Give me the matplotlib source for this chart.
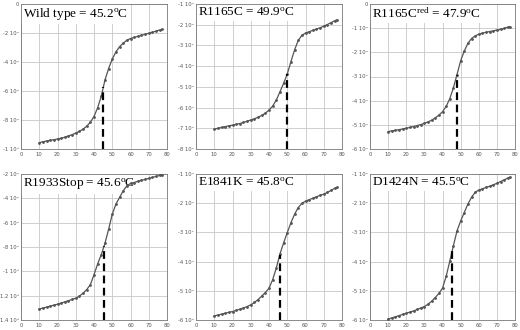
import matplotlib
matplotlib.use("Agg")
import matplotlib.pyplot as plt

plt.rcParams['mathtext.fontset'] = 'custom'
plt.rcParams['mathtext.rm'] = 'Liberation Serif'
plt.rcParams['mathtext.it'] = 'Liberation Serif:italic'

temps = [10, 12, 14, 16, 18, 20, 22, 24, 26, 28, 30, 32, 34, 36, 38, 40, 42, 44, 46,
         48, 50, 52, 54, 56, 58, 60, 62, 64, 66, 68, 70, 72, 74, 76, 77]

wt = [-95.6, -95.0, -94.5, -94.0, -93.6, -93.1, -92.6, -91.9, -91.0, -90.1, -89.0, -87.8,
      -86.3, -84.3, -81.5, -77.6, -71.5, -63.5, -52.5, -44.5, -38.0, -33.0, -29.5, -27.0,
      -25.0, -23.8, -23.0, -22.3, -21.6, -20.9, -20.2, -19.5, -18.7, -17.9, -17.5]
r1165c = [-70.4, -70.0, -69.6, -69.2, -68.8, -68.5, -68.1, -67.7, -67.2, -66.6, -66.0, -65.4,
          -64.7, -63.8, -62.7, -61.2, -59.3, -56.4, -52.4, -48.3, -43.8, -37.9, -32.2, -27.6,
          -25.2, -24.0, -23.4, -22.7, -22.1, -21.5, -20.7, -19.9, -19.0, -18.1, -17.7]
r1165cred = [-52.8, -52.5, -52.3, -52.0, -51.7, -51.4, -51.1, -50.7, -50.3, -49.9, -49.4, -48.8,
             -48.1, -47.1, -46.0, -44.6, -42.4, -39.2, -34.7, -29.2, -23.5, -19.5, -16.3, -14.3,
             -13.2, -12.5, -12.1, -11.7, -11.4, -11.1, -10.8, -10.5, -10.1, -9.6, -9.4]
r1933stop = [-130.9, -130.2, -129.4, -128.6, -127.8, -127.0, -126.1, -125.1, -124.1, -123.1,
             -122.1, -120.3, -118.0, -115.0, -111.0, -102.8, -93.9, -86.2, -77.0, -65.5, -53.1,
             -44.8, -39.3, -33.8, -29.7, -27.8, -27.0, -26.0, -25.2, -24.4, -23.6, -22.8, -22.0,
             -21.2, -20.8]
e1841k = [-58.6, -58.3, -58.0, -57.7, -57.4, -57.1, -56.7, -56.3, -55.9, -55.4, -54.8, -54.0,
          -53.0, -51.8, -50.6, -49.1, -46.2, -42.2, -37.4, -33.6, -30.1, -26.7, -23.8, -21.5,
          -20.1, -19.3, -18.8, -18.3, -17.8, -17.3, -16.9, -16.3, -15.6, -14.9, -14.6]
d1424n = [-59.7, -59.3, -58.9, -58.5, -58.1, -57.7, -57.3, -56.9, -56.4, -55.9, -55.4, -54.6,
          -53.6, -52.3, -50.9, -49.1, -45.1, -39.9, -34.6, -29.5, -26.1, -23.2, -20.3, -18.0,
          -16.3, -15.5, -15.1, -14.6, -14.2, -13.7, -13.2, -12.6, -12.0, -11.4, -11.1]

titles = [r"Wild type = 45.2$^{\rm o}$C",
          r"R1165C = 49.9$^{\rm o}$C",
          r"R1165C$^{\rm red}$ = 47.9$^{\rm o}$C",
          r"R1933Stop = 45.6$^{\rm o}$C",
          r"E1841K = 45.8$^{\rm o}$C",
          r"D1424N = 45.5$^{\rm o}$C"]
tm_values = [45.2, 49.9, 47.9, 45.6, 45.8, 45.5]
series = [wt, r1165c, r1165cred, r1933stop, e1841k, d1424n]  # in units of 1e3

ytick_vals = [
    [0, -20, -40, -60, -80, -100],
    [-10, -20, -30, -40, -50, -60, -70, -80],
    [0, -10, -20, -30, -40, -50, -60],
    [-20, -40, -60, -80, -100, -120, -140],
    [-10, -20, -30, -40, -50, -60],
    [-10, -20, -30, -40, -50, -60],
]
ytick_labels = [
    ["0", "-2 10⁴", "-4 10⁴", "-6 10⁴", "-8 10⁴", "-1 10⁵"],
    ["-1 10⁴", "-2 10⁴", "-3 10⁴", "-4 10⁴", "-5 10⁴", "-6 10⁴", "-7 10⁴", "-8 10⁴"],
    ["0", "-1 10⁴", "-2 10⁴", "-3 10⁴", "-4 10⁴", "-5 10⁴", "-6 10⁴"],
    ["-2 10⁴", "-4 10⁴", "-6 10⁴", "-8 10⁴", "-1 10⁵", "1.2 10⁵", "1.4 10⁵"],
    ["-1 10⁴", "-2 10⁴", "-3 10⁴", "-4 10⁴", "-5 10⁴", "-6 10⁴"],
    ["-1 10⁴", "-2 10⁴", "-3 10⁴", "-4 10⁴", "-5 10⁴", "-6 10⁴"],
]
xticks = [0, 10, 20, 30, 40, 50, 60, 70, 80]

W, H = 520, 330
fig = plt.figure(figsize=(W / 100, H / 100), dpi=100)

# pixel boxes: (left, top, width, height)
boxes = [(21, 4, 146, 145), (196, 4, 146, 145), (370, 4, 145, 145),
         (21, 174, 146, 146), (196, 174, 146, 146), (370, 174, 145, 146)]

for i in range(6):
    l, t, w, h = boxes[i]
    ax = fig.add_axes([l / W, (H - t - h) / H, w / W, h / H])
    yv = ytick_vals[i]
    ax.set_xlim(0, 80)
    ax.set_ylim(min(yv), max(yv))
    ax.set_xticks(xticks)
    ax.set_xticklabels([str(x) for x in xticks])
    ax.set_yticks(yv)
    ax.set_yticklabels(ytick_labels[i])
    ax.tick_params(labelsize=3.8, length=0, colors='#555555')
    ax.tick_params(axis='x', pad=2.5)
    ax.tick_params(axis='y', pad=1.5)
    ax.grid(True, color='#c8c8c8', linewidth=0.6)
    ax.set_axisbelow(True)
    for s in ax.spines.values():
        s.set_color('#777777')
        s.set_linewidth(0.6)
    ys = series[i]
    ax.plot(temps, ys, color='#555555', linewidth=0.9, marker='.', markersize=2.0,
            zorder=3)
    tm = tm_values[i]
    ytop = None
    for j in range(len(temps) - 1):
        if temps[j] <= tm <= temps[j + 1]:
            f = (tm - temps[j]) / (temps[j + 1] - temps[j])
            ytop = ys[j] + f * (ys[j + 1] - ys[j])
    ax.plot([tm, tm], [min(yv), ytop], color='black', linewidth=1.6,
            linestyle=(0, (3.5, 2)), zorder=4)
    ax.text(0.012, 0.985, titles[i], transform=ax.transAxes, ha='left', va='top',
            family='Liberation Serif', fontsize=9.5, color='black', zorder=2.5,
            bbox=dict(facecolor='white', edgecolor='none', pad=1.5))

fig.savefig("out.png", dpi=100)
